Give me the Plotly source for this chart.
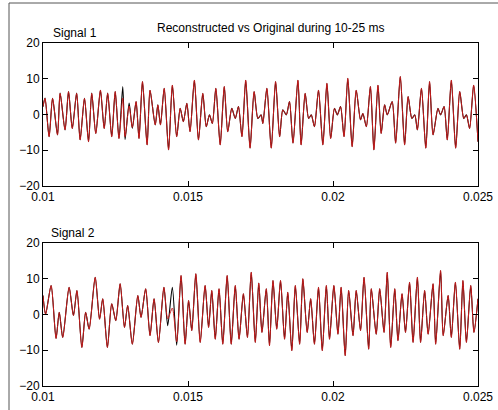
import plotly.graph_objects as go
from plotly.subplots import make_subplots

# ---------------- data ----------------
title_text = "Reconstructed vs Original during 10-25 ms"
panel_labels = ["Signal 1", "Signal 2"]
x_ticks = [0.01, 0.015, 0.02, 0.025]
x_tick_labels = ["0.01", "0.015", "0.02", "0.025"]
y_ticks = [-20, -10, 0, 10, 20]

# Signal 1 : time (s)
t1 = [0.01000, 0.01007, 0.01021, 0.01033, 0.01050, 0.01059, 0.01076, 0.01088, 0.01101, 0.01116,
      0.01128, 0.01143, 0.01157, 0.01168, 0.01182, 0.01198, 0.01211, 0.01223, 0.01237, 0.01249,
      0.01262, 0.01275, 0.01283, 0.01297, 0.01308, 0.01321, 0.01331, 0.01343, 0.01359, 0.01369,
      0.01387, 0.01396, 0.01405, 0.01418, 0.01433, 0.01446, 0.01461, 0.01473, 0.01484, 0.01496,
      0.01507, 0.01522, 0.01536, 0.01551, 0.01563, 0.01574, 0.01584, 0.01596, 0.01611, 0.01625,
      0.01637, 0.01651, 0.01663, 0.01674, 0.01686, 0.01699, 0.01714, 0.01728, 0.01741, 0.01752,
      0.01758, 0.01772, 0.01787, 0.01802, 0.01816, 0.01827, 0.01839, 0.01850, 0.01862, 0.01879,
      0.01890, 0.01904, 0.01916, 0.01925, 0.01936, 0.01950, 0.01965, 0.01979, 0.01992, 0.02005,
      0.02015, 0.02026, 0.02038, 0.02051, 0.02066, 0.02080, 0.02095, 0.02103, 0.02115, 0.02129,
      0.02141, 0.02155, 0.02166, 0.02178, 0.02187, 0.02204, 0.02216, 0.02232, 0.02247, 0.02259,
      0.02272, 0.02282, 0.02291, 0.02305, 0.02320, 0.02333, 0.02345, 0.02362, 0.02371, 0.02383,
      0.02394, 0.02408, 0.02423, 0.02437, 0.02451, 0.02460, 0.02471, 0.02485, 0.02500]

orig1 = [2.2, 4.6, -6.2, 4.5, -5.7, 6.0, -4.3, 6.4, -3.9, 6.0,
         -7.1, 4.5, -7.6, 6.0, -5.3, 6.8, -3.9, 6.0, -6.2, 6.4,
         -6.7, 7.8, -7.0, 3.2, -3.9, 3.6, -6.7, 9.2, -8.5, 6.8,
         -2.9, 2.7, -2.9, 7.3, -9.9, 8.2, -6.2, 1.7, -2.0, 3.1,
         -4.8, 9.6, -7.1, 5.9, -3.4, -0.1, -2.5, 7.3, -8.5, 7.8,
         -4.8, 1.7, -1.1, 2.2, -6.2, 9.6, -9.4, 6.4, -1.1, -0.1,
         -2.5, 7.3, -9.4, 9.2, -6.2, 1.3, -0.1, 3.6, -8.0, 9.6,
         -8.5, 5.9, -1.1, -0.1, -3.4, 6.8, -8.5, 8.7, -6.7, 1.7,
         -0.1, 2.2, -6.2, 10.1, -9.0, 6.8, -1.5, 0.3, -3.4, 7.8,
         -9.9, 8.2, -5.3, 2.7, -0.1, 3.6, -8.0, 10.6, -8.5, 5.0,
         -1.1, -0.1, -4.3, 7.3, -9.4, 9.2, -5.7, 1.7, -0.1, 2.2,
         -7.1, 9.6, -9.4, 6.4, -1.1, -0.1, -3.9, 8.2, -7.6]

recon1 = [2.2, 4.5, -6.2, 4.5, -5.7, 5.9, -4.3, 6.4, -3.9, 5.9,
          -7.1, 4.5, -7.6, 5.9, -5.3, 6.8, -3.9, 5.9, -6.2, 6.4,
          -6.7, 4.6, -6.2, 2.4, -3.6, 3.6, -6.7, 9.2, -8.5, 6.8,
          -2.9, 2.7, -2.9, 7.3, -9.9, 8.2, -6.2, 1.7, -2.0, 3.1,
          -4.8, 9.6, -7.1, 5.9, -3.4, -0.1, -2.5, 7.3, -8.5, 7.8,
          -4.8, 1.7, -1.1, 2.2, -6.2, 9.6, -9.4, 6.4, -1.1, -0.1,
          -2.5, 7.3, -9.4, 9.2, -6.2, 1.3, -0.1, 3.6, -8.0, 9.6,
          -8.5, 5.9, -1.1, -0.1, -3.4, 6.8, -8.5, 8.7, -6.7, 1.7,
          -0.1, 2.2, -6.2, 10.1, -9.0, 6.8, -1.5, 0.3, -3.4, 7.8,
          -9.9, 8.2, -5.3, 2.7, -0.1, 3.6, -8.0, 10.6, -8.5, 5.0,
          -1.1, -0.1, -4.3, 7.3, -9.4, 9.2, -5.7, 1.7, -0.1, 2.2,
          -7.1, 9.6, -9.4, 6.4, -1.1, -0.1, -3.9, 8.2, -7.6]

# Signal 2 : time (s)
t2 = [0.01000, 0.01009, 0.01028, 0.01045, 0.01056, 0.01068, 0.01090, 0.01105, 0.01117, 0.01134,
      0.01147, 0.01159, 0.01180, 0.01195, 0.01206, 0.01222, 0.01237, 0.01251, 0.01266, 0.01281,
      0.01292, 0.01308, 0.01327, 0.01338, 0.01354, 0.01369, 0.01383, 0.01398, 0.01417, 0.01430,
      0.01446, 0.01461, 0.01476, 0.01490, 0.01502, 0.01513, 0.01527, 0.01542, 0.01559, 0.01571,
      0.01582, 0.01594, 0.01607, 0.01620, 0.01635, 0.01649, 0.01663, 0.01676, 0.01691, 0.01705,
      0.01718, 0.01732, 0.01744, 0.01755, 0.01770, 0.01781, 0.01793, 0.01806, 0.01819, 0.01833,
      0.01844, 0.01858, 0.01870, 0.01885, 0.01896, 0.01911, 0.01923, 0.01936, 0.01950, 0.01963,
      0.01977, 0.01988, 0.02003, 0.02017, 0.02028, 0.02042, 0.02054, 0.02069, 0.02080, 0.02095,
      0.02107, 0.02123, 0.02132, 0.02149, 0.02161, 0.02176, 0.02187, 0.02199, 0.02213, 0.02224,
      0.02238, 0.02250, 0.02264, 0.02276, 0.02291, 0.02302, 0.02316, 0.02328, 0.02345, 0.02354,
      0.02371, 0.02380, 0.02397, 0.02408, 0.02422, 0.02437, 0.02448, 0.02460, 0.02475, 0.02486,
      0.02500]

orig2 = [5.3, 0.1, 8.1, -6.7, 0.6, -6.4, 7.6, -0.3, 6.7, -9.2,
         0.6, -4.1, 10.4, -1.3, 4.4, -9.2, 3.0, -1.7, 8.6, -3.6,
         2.5, -8.3, 5.3, -0.8, 7.2, -5.9, 4.4, -7.8, 7.6, -3.1,
         7.6, -8.6, 10.9, -8.3, 3.9, -4.5, 11.4, -7.8, 8.1, -3.6,
         6.7, -6.9, 7.2, -8.3, 10.9, -8.3, 8.1, -6.9, 5.8, -6.4,
         11.8, -7.8, 8.8, -5.0, 7.2, -8.7, 9.5, -4.1, 9.5, -6.9,
         6.2, -10.1, 8.1, -8.3, 10.0, -5.0, 4.4, -8.3, 7.6, -10.1,
         8.1, -6.9, 8.1, -5.5, 7.6, -11.5, 6.7, -5.9, 6.7, -4.5,
         10.4, -9.7, 7.2, -5.5, 7.2, -5.0, 11.8, -9.2, 7.2, -7.3,
         5.8, -5.0, 9.0, -7.8, 10.4, -7.8, 6.7, -5.5, 8.6, -8.3,
         12.3, -5.9, 5.3, -6.4, 9.0, -9.7, 9.5, -7.8, 8.1, -5.0,
         4.4]

recon2 = [5.3, 0.1, 8.1, -6.7, 0.6, -6.4, 7.6, -0.3, 6.7, -9.2,
          0.6, -4.1, 10.4, -1.3, 4.4, -9.2, 3.0, -1.7, 8.6, -3.6,
          2.5, -8.3, 5.3, -0.8, 7.2, -5.9, 4.4, -7.8, 7.6, -1.2,
          1.8, -7.6, 10.9, -8.3, 3.9, -4.5, 11.4, -7.8, 8.1, -3.6,
          6.7, -6.9, 7.2, -8.3, 10.9, -8.3, 8.1, -6.9, 5.8, -6.4,
          11.8, -7.8, 8.8, -5.0, 7.2, -8.7, 9.5, -4.1, 9.5, -6.9,
          6.2, -10.1, 8.1, -8.3, 10.0, -5.0, 4.4, -8.3, 7.6, -10.1,
          8.1, -6.9, 8.1, -5.5, 7.6, -11.5, 6.7, -5.9, 6.7, -4.5,
          10.4, -9.7, 7.2, -5.5, 7.2, -5.0, 11.8, -9.2, 7.2, -7.3,
          5.8, -5.0, 9.0, -7.8, 10.4, -7.8, 6.7, -5.5, 8.6, -8.3,
          12.3, -5.9, 5.3, -6.4, 9.0, -9.7, 9.5, -7.8, 8.1, -5.0,
          4.4]

# ---------------- figure ----------------
W, H = 498, 410
ML, MR, MT, MB = 43, 20, 43, 24

fig = make_subplots(rows=2, cols=1, vertical_spacing=0.1662)

for row, (t, o, r) in enumerate([(t1, orig1, recon1), (t2, orig2, recon2)], start=1):
    fig.add_trace(go.Scatter(x=t, y=o, mode="lines",
                             line=dict(color="black", width=1.1, shape="spline", smoothing=0.7),
                             showlegend=False, hoverinfo="skip"), row=row, col=1)
    fig.add_trace(go.Scatter(x=t, y=r, mode="lines",
                             line=dict(color="#c81c1c", width=1, shape="spline", smoothing=0.7),
                             showlegend=False, hoverinfo="skip"), row=row, col=1)

axis_font = dict(family="Liberation Sans, Arial, sans-serif", size=12, color="black")
fig.update_xaxes(range=[0.01, 0.025], tickvals=x_ticks, ticktext=x_tick_labels,
                 ticks="inside", ticklen=5, tickcolor="black", mirror="allticks",
                 showline=True, linecolor="black", linewidth=1, showgrid=False,
                 zeroline=False, tickfont=axis_font)
fig.update_yaxes(range=[-20, 20], tickvals=y_ticks, ticks="inside", ticklen=5,
                 tickcolor="black", mirror="allticks", showline=True, linecolor="black",
                 linewidth=1, showgrid=False, zeroline=False, tickfont=axis_font)

fig.update_layout(yaxis=dict(domain=[0.5831, 1.0]), yaxis2=dict(domain=[0.0, 0.4169]))

pw, ph = W - ML - MR, H - MT - MB
def px_x(px):
    return (px - ML) / pw
def px_y(py):
    return (H - MB - py) / ph

lab_font = dict(family="Liberation Sans, Arial, sans-serif", size=12, color="black")
annotations = [
    dict(text=title_text, x=px_x(270), y=px_y(28), xref="paper", yref="paper",
         xanchor="center", yanchor="middle", showarrow=False, font=lab_font),
    dict(text=panel_labels[0], x=px_x(51), y=px_y(33), xref="paper", yref="paper",
         xanchor="left", yanchor="middle", showarrow=False, font=lab_font),
    dict(text=panel_labels[1], x=px_x(49), y=px_y(233), xref="paper", yref="paper",
         xanchor="left", yanchor="middle", showarrow=False, font=lab_font),
]

shapes = [
    dict(type="line", xref="paper", yref="paper", x0=px_x(9), x1=px_x(W), y0=px_y(3), y1=px_y(3),
         line=dict(color="#555555", width=1)),
    dict(type="line", xref="paper", yref="paper", x0=px_x(9), x1=px_x(9), y0=px_y(3), y1=px_y(H),
         line=dict(color="#555555", width=1)),
]

fig.update_layout(width=W, height=H, margin=dict(l=ML, r=MR, t=MT, b=MB, autoexpand=False),
                  paper_bgcolor="white", plot_bgcolor="white",
                  annotations=annotations, shapes=shapes, showlegend=False)

fig.write_html("out.html", config={"displayModeBar": False},
               post_script="document.body.style.margin='0';document.body.style.overflow='hidden';")
